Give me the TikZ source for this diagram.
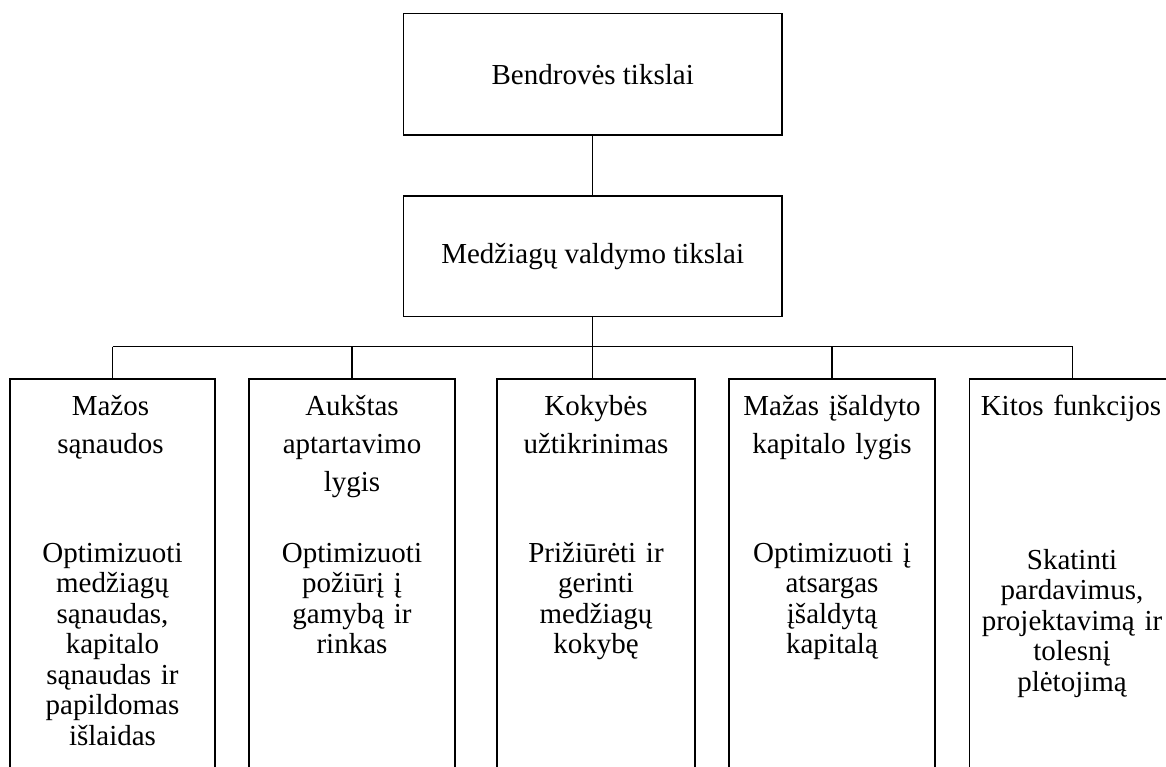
\documentclass[tikz,border=0pt]{standalone}
\usepackage{fontspec}
\setmainfont{Liberation Serif}
\begin{document}
\begin{tikzpicture}[x=1pt,y=-1pt]
\tikzset{
  frame/.style={draw, line width=1.3pt, rectangle, inner sep=0pt},
  link/.style={line width=1.3pt},
  bigtxt/.style={font=\fontsize{29}{34}\selectfont},
  ttl/.style={font=\fontsize{29}{38}\selectfont, align=center, text width=204pt, inner sep=0pt, anchor=base},
  bdy/.style={font=\fontsize{29}{30.5}\selectfont, align=center, text width=204pt, inner sep=0pt, anchor=base},
  col/.style={frame, anchor=north, minimum height=460pt},
}
\useasboundingbox (0,0) rectangle (1166,767);
\clip (0,0) rectangle (1166,767);
\fill[white] (0,0) rectangle (1166,767);

\node[frame, bigtxt, minimum width=378.7pt, minimum height=121.7pt] (top) at (592.7,74.2) {Bendrovės tikslai};
\node[frame, bigtxt, minimum width=378.7pt, minimum height=120.7pt] (mid) at (592.7,256.4) {Medžiagų valdymo tikslai};

\node[col, minimum width=205pt] (b1) at (112.5,378.3) {};
\node[col, minimum width=206pt] (b2) at (352,378.3) {};
\node[col, minimum width=198pt] (b3) at (596,378.3) {};
\node[col, minimum width=206pt] (b4) at (832,378.3) {};
\node[col, minimum width=206pt] (b5) at (1072.7,378.3) {};

\coordinate (busL) at (112.5,346.7);
\coordinate (busR) at (1072.7,346.7);

\draw[link] (top.south) -- (mid.north);
\draw[link] (mid.south) -- (mid.south |- busL);
\draw[link] (busL) -- (busR);
\draw[link] (busL) -- (b1.north);
\draw[link] (b2.north |- busL) -- (b2.north);
\draw[link] (mid.south |- busL) -- (mid.south |- b3.north);
\draw[link] (b4.north |- busL) -- (b4.north);
\draw[link] (busR) -- (b5.north);

\node[ttl] (t1) at (110.5,415) {Mažos\\sąnaudos};
\node[ttl] (t2) at (352,415) {Aukštas\\aptartavimo\\lygis};
\node[ttl] (t3) at (596,415) {Kokybės\\užtikrinimas};
\node[ttl] (t4) at (832,415) {Mažas įšaldyto\\kapitalo lygis};
\node[ttl] (t5) at (1071,415) {Kitos funkcijos};

\node[bdy] (d1) at (112.5,562) {Optimizuoti\\medžiagų\\sąnaudas,\\kapitalo\\sąnaudas ir\\papildomas\\išlaidas};
\node[bdy] (d2) at (352,562) {Optimizuoti\\požiūrį į\\gamybą ir\\rinkas};
\node[bdy] (d3) at (596,562) {Prižiūrėti ir\\gerinti\\medžiagų\\kokybę};
\node[bdy] (d4) at (832,562) {Optimizuoti į\\atsargas\\įšaldytą\\kapitalą};
\node[bdy] (d5) at (1072,569) {Skatinti\\pardavimus,\\projektavimą ir\\tolesnį\\plėtojimą};
\end{tikzpicture}
\end{document}
